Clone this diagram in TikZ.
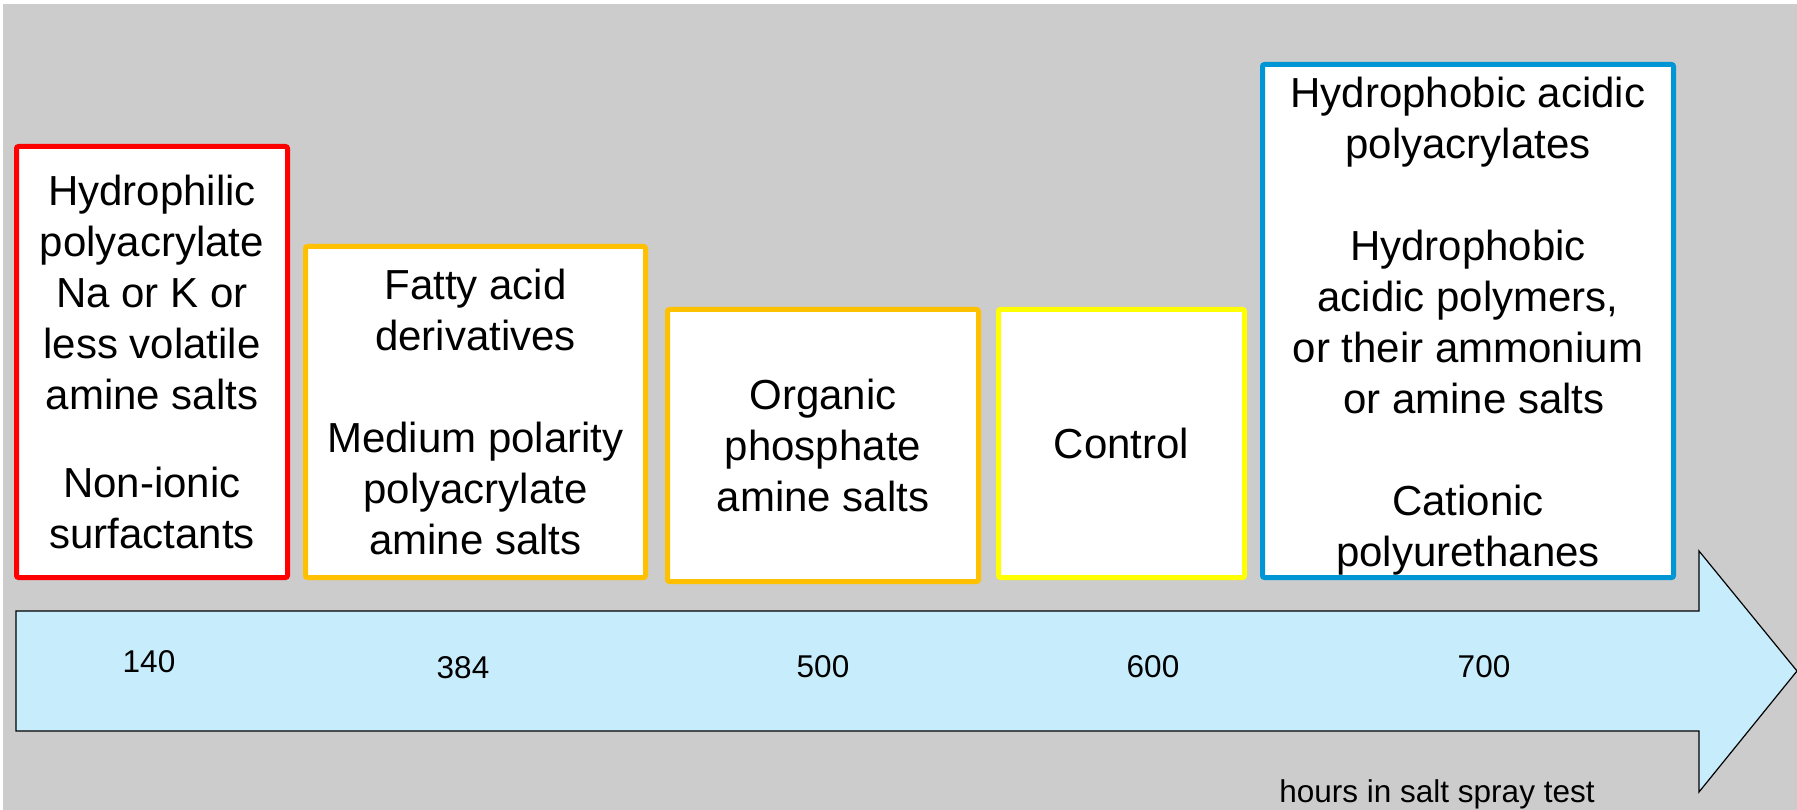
\documentclass[tikz,border=0pt]{standalone}
\usepackage{fontspec}
\setmainfont{Liberation Sans}
\usetikzlibrary{positioning}

\definecolor{bggray}{HTML}{CCCCCC}
\definecolor{boxred}{HTML}{FF0000}
\definecolor{boxorange}{HTML}{FFC000}
\definecolor{boxyellow}{HTML}{FFFF00}
\definecolor{boxblue}{HTML}{0096D6}
\definecolor{axisblue}{HTML}{C7EDFC}

\begin{document}
\begin{tikzpicture}[
    x=1pt, y=-1pt,
    group/.style={rectangle, draw, line width=5pt, fill=white, rounded corners=2pt, align=center, inner sep=0pt, outer sep=0pt, font=\fontsize{42}{51}\selectfont},
    hours/.style={font=\fontsize{31.5}{37}\selectfont}
]
\useasboundingbox (0,0) rectangle (1797,810);
\fill [bggray] (3,4) rectangle (1797,810);

% time axis
\draw [fill=axisblue, line width=1.2pt] (16,611) -- (1699,611) -- (1699,551) -- (1797,671)
    -- (1699,792) -- (1699,731) -- (16,731) -- cycle;

\node [group, draw=boxred, minimum width=271pt, minimum height=431pt, anchor=south west] (hydrophilic) at (16.5,577.5)
    {Hydrophilic\\polyacrylate\\Na or K or\\less volatile\\amine salts\\[37pt]Non-ionic\\surfactants};
\node [group, draw=boxorange, minimum width=340pt, minimum height=331pt, above right=0pt and 18pt of hydrophilic.south east] (fatty)
    {Fatty acid\\derivatives\\[51pt]Medium polarity\\polyacrylate\\amine salts};
\node [group, draw=boxorange, minimum width=311pt, minimum height=272pt, above right=-4pt and 22pt of fatty.south east] (organic)
    {Organic\\phosphate\\amine salts};
\node [group, draw=boxyellow, minimum width=246pt, minimum height=268pt, above right=4pt and 20pt of organic.south east] (control)
    {Control};
\node [group, draw=boxblue, minimum width=411pt, minimum height=513pt, above right=0pt and 18pt of control.south east] (hydrophobic)
    {\rule{0pt}{40pt}Hydrophobic acidic\\polyacrylates\\[51pt]Hydrophobic\\acidic polymers,\\or their ammonium\\\ or amine salts\\[51pt]Cationic\\polyurethanes};

% hours
\node [hours] (h140) at (149,662) {140};
\node [hours] (h384) at (463,668) {384};
\node [hours] (h500) at (823,667) {500};
\node [hours] (h600) at (1153,667) {600};
\node [hours] (h700) at (1484,667) {700};
\node [hours] (unit) at (1437,794) {hours in salt spray test};
\end{tikzpicture}
\end{document}
